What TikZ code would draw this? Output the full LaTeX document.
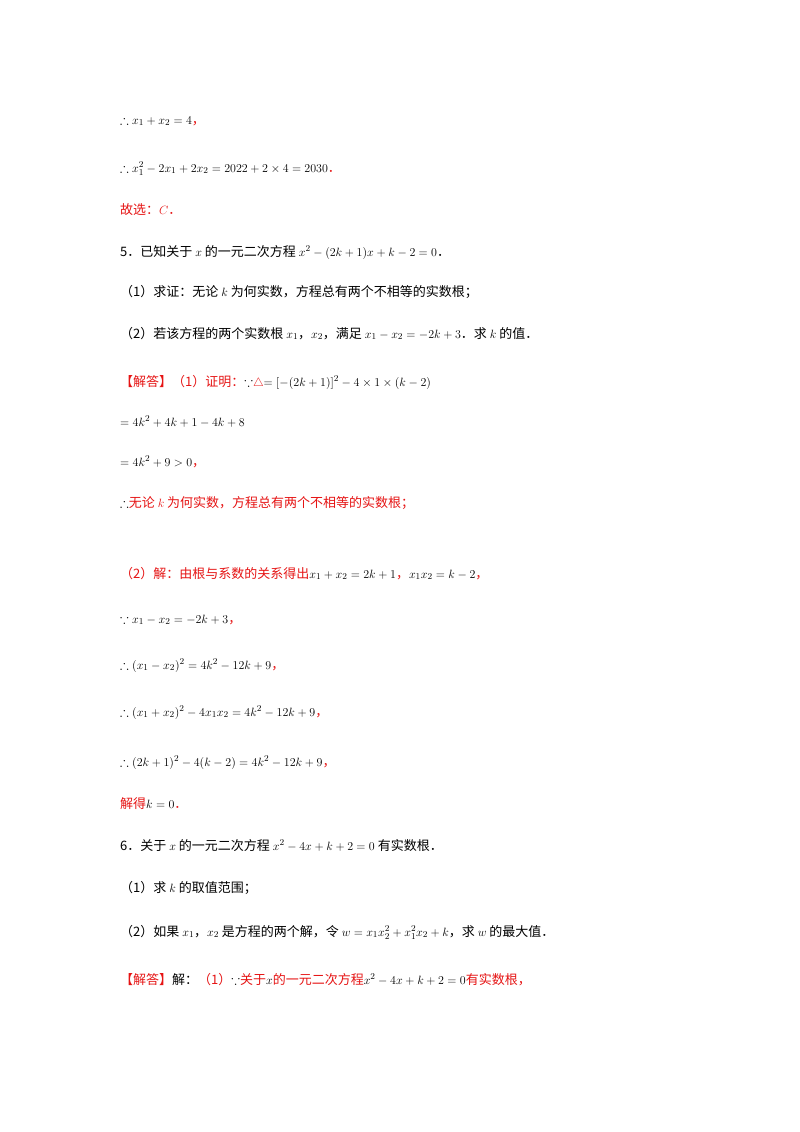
\documentclass[tikz,border=0pt]{standalone}
\usepackage{amsmath,amssymb}
\usepackage{fontspec}
\setmainfont{Noto Sans CJK SC}
\definecolor{rd}{RGB}{230,20,20}
\newcommand{\R}[1]{\textcolor{rd}{#1}}
\begin{document}
\begin{tikzpicture}[x=1pt,y=-1pt,
  ln/.style={anchor=base west,inner sep=0pt,font=\fontsize{13}{16}\selectfont}]
\useasboundingbox[fill=white] (0,0) rectangle (800,1132);
\node[ln] (l1) at (120,124) {$\therefore x_1+x_2=4$\R{，}};
\node[ln] (l2) at (120,172) {$\therefore x_{1}^{2}-2x_1+2x_2=2022+2\times4=2030$\R{．}};
\node[ln] (l3) at (120,214) {\R{故选：$C$．}};
\node[ln] (l4) at (120,256) {5．已知关于 $x$ 的一元二次方程 $x^2-(2k+1)x+k-2=0$．};
\node[ln] (l5) at (120,296) {（1）求证：无论 $k$ 为何实数，方程总有两个不相等的实数根；};
\node[ln] (l6) at (120,338) {（2）若该方程的两个实数根 $x_1$，$x_2$，满足 $x_1-x_2=-2k+3$．求 $k$ 的值．};
\node[ln] (l7) at (120,386) {\R{【解答】（1）证明：}$\because$\R{$\triangle$}$=[-(2k+1)]^2-4\times1\times(k-2)$};
\node[ln] (l8) at (120,426) {$=4k^2+4k+1-4k+8$};
\node[ln] (l9) at (120,466) {$=4k^2+9>0$\R{，}};
\node[ln] (l10) at (120,507) {$\therefore$\R{无论 $k$ 为何实数，方程总有两个不相等的实数根；}};
\node[ln] (l11) at (120,578) {\R{（2）解：由根与系数的关系得出}$x_1+x_2=2k+1$\R{，}$x_1x_2=k-2$\R{，}};
\node[ln] (l12) at (120,623) {$\because x_1-x_2=-2k+3$\R{，}};
\node[ln] (l13) at (120,669) {$\therefore(x_1-x_2)^2=4k^2-12k+9$\R{，}};
\node[ln] (l14) at (120,716) {$\therefore(x_1+x_2)^2-4x_1x_2=4k^2-12k+9$\R{，}};
\node[ln] (l15) at (120,766) {$\therefore(2k+1)^2-4(k-2)=4k^2-12k+9$\R{，}};
\node[ln] (l16) at (120,808) {\R{解得}$k=0$\R{．}};
\node[ln] (l17) at (120,850) {6．关于 $x$ 的一元二次方程 $x^2-4x+k+2=0$ 有实数根．};
\node[ln] (l18) at (120,892) {（1）求 $k$ 的取值范围；};
\node[ln] (l19) at (120,936) {（2）如果 $x_1$，$x_2$ 是方程的两个解，令 $w=x_1x_{2}^{2}+x_{1}^{2}x_2+k$，求 $w$ 的最大值．};
\node[ln] (l20) at (120,984) {\R{【解答】}解：\R{（1）}$\because$\R{关于}$x$\R{的一元二次方程}$x^2-4x+k+2=0$\R{有实数根，}};
\end{tikzpicture}
\end{document}
